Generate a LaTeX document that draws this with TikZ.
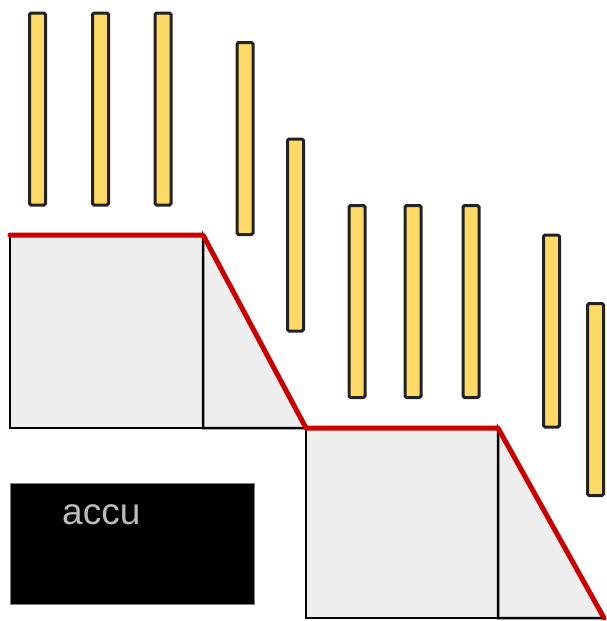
\documentclass[tikz,border=0pt]{standalone}
\usepackage{fontspec}
\setmainfont{Liberation Sans}
\definecolor{barfill}{HTML}{FFD966}
\definecolor{barline}{HTML}{222222}
\definecolor{blockfill}{HTML}{EEEEEE}
\definecolor{edgered}{HTML}{CC0000}
\definecolor{labelgray}{HTML}{BBBBBB}
\tikzset{
  bar/.style={draw=barline, fill=barfill, line width=3pt, rounded corners=1.5pt,
    minimum width=16pt, minimum height=192pt, inner sep=0pt},
  block/.style={draw=black, fill=blockfill, line width=2.5pt, line join=miter},
  profile/.style={draw=edgered, line width=5pt, line join=round, line cap=round},
}
\begin{document}
\begin{tikzpicture}[x=1pt, y=-1pt]
  \useasboundingbox (0,0) rectangle (607,621);

  % bars
  \node[bar] (b1)  at (37.5,109)  {};
  \node[bar] (b2)  at (100.5,109) {};
  \node[bar] (b3)  at (163,109)   {};
  \node[bar] (b4)  at (245,138.5) {};
  \node[bar] (b5)  at (295.5,235) {};
  \node[bar] (b6)  at (357,301.5) {};
  \node[bar] (b7)  at (413,301.5) {};
  \node[bar] (b8)  at (471,301.5) {};
  \node[bar] (b9)  at (551.5,331) {};
  \node[bar] (b10) at (595.5,399.5) {};

  % first step block
  \draw[block] (10,235) rectangle (203,428);
  \draw[block] (203,235) -- (306,428) -- (203,428) -- cycle;
  % second step block
  \draw[block] (306,428) rectangle (498,618);
  \draw[block] (498,428) -- (604,618) -- (498,618) -- cycle;

  % profile outline
  \draw[profile] (10,235) -- (203,235) -- (306,428) -- (498,428) -- (604,618);

  % accumulator box
  \node[draw=gray, line width=0.6pt, fill=black, minimum width=244pt, minimum height=121pt,
    inner sep=0pt, anchor=north west] (accu) at (10,483) {};
  \node[anchor=base west, inner sep=0pt, text=labelgray, font=\fontsize{37}{40}\selectfont]
    (accutext) at (62,524) {accu};
\end{tikzpicture}
\end{document}
